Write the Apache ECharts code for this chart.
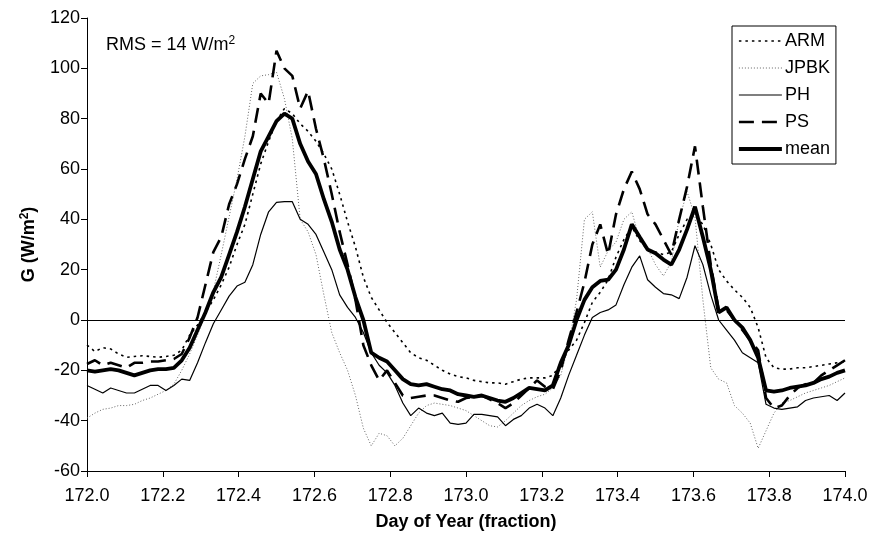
<!DOCTYPE html>
<html>
<head>
<meta charset="utf-8">
<script src="https://cdn.jsdelivr.net/npm/echarts@6/dist/echarts.min.js"></script>
<style>html,body{margin:0;padding:0;background:#fff}#chart{width:871px;height:542px}</style>
</head>
<body>
<div id="chart"></div>
<script>
// Axis settings
const xMin = 172.0, xMax = 174.0, xInterval = 0.2;
const yMin = -60, yMax = 120, yInterval = 20;

// Half-hourly sampling times (day of year, fraction) : 172.0 ... 174.0
const stepsPerDay = 48;
const dayOfYear = Array.from({length: 97}, (_, i) => +(172 + i / stepsPerDay).toFixed(5));

// Series values G (W/m2)
const arm = [-10,-12.5,-11,-11.5,-13.5,-14.8,-14.5,-14.2,-14.5,-14.8,-14.5,-14,-12,-6,-2,3,8,14,21,30,38,50,62,71,79,84,82,78,75,71,66,60,50,39,29,17,9,4,-1,-5,-9,-13,-15,-16,-18,-20,-21.5,-22.5,-23,-24,-24.5,-25,-25,-25.5,-24.5,-23.5,-23,-23,-23,-22,-17.5,-12,-8,-1,7,11,16,25,32,37,31.5,28,27,26,27,34,40,41.5,38,30,20,15.5,12,9,5,-3,-15,-19,-19.5,-19.5,-19,-19,-18.5,-18,-17.5,-17,-16.5];
const jpbk = [-39,-37,-35.5,-35,-34,-34,-33.5,-32,-31,-29.5,-28,-25.5,-20,-13.5,-6,3,11.5,26,41,56,73,94,97,97.5,98.5,88,72,40,35,26,10,-5,-13,-20,-30,-43,-50,-45,-46,-50,-47,-42,-37,-34,-33,-33.5,-34,-35,-36,-38,-40,-42,-42.5,-40,-37,-34,-32,-30.5,-29.5,-27,-22,-10,8,40,43,21,27.5,31,40,43,32,28.5,22,17.5,23,40,51,41,8,-19,-23.5,-25,-34,-37,-41,-51,-44,-37,-33,-32,-30.5,-29,-28,-27,-26,-24.5,-23];
const ph = [-26,-27.5,-29,-27,-28,-29,-29,-27.5,-26,-26,-28,-26,-23.5,-24,-17,-9,-1.5,4,9.5,13.5,15,22,34,43,46.7,47,47,40,38,34,27,20,10,5,1,-5,-13,-18,-21,-26,-33,-38,-35,-37,-38,-37,-41,-41.5,-41,-37.5,-37.5,-38,-38.5,-42,-39.5,-38,-35,-33.5,-35,-38,-31,-22,-14,-6,1,3,4,6,14,21,25.5,16,13,10.5,10,8.5,17,29.5,22,10,0,-4,-8,-13,-15,-17,-33.5,-35,-35.5,-35,-34.5,-32,-31,-30.5,-30,-32,-29];
const ps = [-17.5,-16,-18,-17,-18,-19,-17,-17,-16.5,-16.5,-16,-15.5,-13.5,-7,1,14,27,33,46,54,64,73,90,86,107,100,97,84,91,76,64,50,35,22,8,-10,-18,-24,-20,-25,-30,-31,-30.5,-30,-30,-31,-32,-32.5,-31,-30.5,-30,-31.5,-33,-35,-33,-30,-27,-24,-26.5,-27.5,-20,-8,3,15,30,38,26,42,52,59,52,42,38,32,26,40,53,69,45,22,4,4,0,-4,-8,-12,-31,-35,-34,-30,-27,-25.5,-25,-22,-20,-18,-16];
const mean = [-20,-20.5,-20,-19.5,-20,-21,-22,-21,-20,-19.5,-19.5,-19,-16,-11,-4,3,11,17,26,35,45,56,67,73,79,82,80,70,63,58,48,39,28,20,9,0,-13,-15,-16.5,-20,-23.5,-25.5,-26,-25.5,-26.5,-27.5,-28,-29.5,-30,-30.5,-30,-31,-32,-32.5,-31,-29,-27,-27.5,-28,-26,-17,-10,0,8,13,15.5,16,20,28,38,33,28,26.5,24,22,28,36,45,33,20,3,5,0,-3,-8,-15,-28,-28.5,-28,-27,-26.5,-26,-25,-23.5,-22.5,-21,-20];

const seriesNames = ['ARM', 'JPBK', 'PH', 'PS', 'mean'];
const seriesValues = [arm, jpbk, ph, ps, mean];

const FONT = '"Liberation Sans", Arial, sans-serif';
const supRich = {
  n: {fontSize: 18, lineHeight: 20, fontFamily: FONT, color: '#000'},
  s: {fontSize: 12, lineHeight: 20, fontFamily: FONT, color: '#000', verticalAlign: 'top'},
  nb: {fontSize: 18, lineHeight: 20, fontFamily: FONT, color: '#000', fontWeight: 'bold'},
  sb: {fontSize: 12, lineHeight: 20, fontFamily: FONT, color: '#000', fontWeight: 'bold', verticalAlign: 'top'}
};

const styles = [
  {color: '#000', width: 1.6, type: [2.5, 4]},
  {color: '#666', width: 1, type: [1, 2]},
  {color: '#000', width: 1.2, type: 'solid'},
  {color: '#000', width: 2.6, type: [15, 8]},
  {color: '#000', width: 3.8, type: 'solid'}
];

const chart = echarts.init(document.getElementById('chart'), null, {renderer: 'canvas'});

const series = seriesNames.map((name, k) => ({
  name: name,
  type: 'line',
  symbol: 'none',
  showSymbol: false,
  smooth: false,
  z: 2 + k,
  lineStyle: styles[k],
  itemStyle: {color: styles[k].color},
  data: dayOfYear.map((d, i) => [d, seriesValues[k][i]]),
  emphasis: {disabled: true}
}));
series[2].markLine = {
  silent: true,
  symbol: ['none', 'none'],
  label: {show: false},
  lineStyle: {color: '#000', width: 1, type: 'solid'},
  data: [{yAxis: 0}],
  animation: false
};

const transparentItem = {color: 'rgba(0,0,0,0)', borderColor: 'rgba(0,0,0,0)', borderWidth: 0, opacity: 0};

chart.setOption({
  animation: false,
  backgroundColor: '#fff',
  textStyle: {fontFamily: FONT, color: '#000'},
  grid: {left: 87, right: 26, top: 18, bottom: 71, containLabel: false},
  xAxis: {
    type: 'value', min: xMin, max: xMax, interval: xInterval,
    name: 'Day of Year (fraction)', nameLocation: 'middle', nameGap: 42,
    nameTextStyle: {fontWeight: 'bold', fontSize: 18, fontFamily: FONT, color: '#000'},
    axisLine: {show: true, onZero: false, lineStyle: {color: '#000', width: 1}},
    axisTick: {show: true, inside: false, length: 6, lineStyle: {color: '#000'}},
    splitLine: {show: false},
    axisLabel: {color: '#000', fontSize: 18, fontFamily: FONT, margin: 16,
      formatter: v => v.toFixed(1)}
  },
  yAxis: {
    type: 'value', min: yMin, max: yMax, interval: yInterval,
    name: '{nb|G (W/m}{sb|2}{nb|)}', nameLocation: 'middle', nameGap: 48,
    nameTextStyle: {fontWeight: 'bold', fontSize: 18, fontFamily: FONT, color: '#000', rich: supRich},
    axisLine: {show: true, onZero: false, lineStyle: {color: '#000', width: 1}},
    axisTick: {show: true, inside: false, length: 6, lineStyle: {color: '#000'}},
    splitLine: {show: false},
    axisLabel: {color: '#000', fontSize: 18, fontFamily: FONT, margin: 7}
  },
  legend: {
    orient: 'vertical', left: 732, top: 26,
    itemWidth: 43, itemHeight: 12, itemGap: 9,
    padding: [6, 6, 6, 5],
    borderColor: '#000', borderWidth: 1,
    backgroundColor: '#fff',
    itemStyle: transparentItem,
    textStyle: {fontSize: 18, fontFamily: FONT, color: '#000', padding: [0, 0, 0, -2]},
    data: seriesNames.map((name, k) => ({
      name: name,
      itemStyle: transparentItem,
      lineStyle: {color: styles[k].color, width: styles[k].width, type: styles[k].type}
    })),
    selectedMode: false
  },
  graphic: [{
    type: 'text', left: 106, top: 35,
    style: {text: '{n|RMS = 14 W/m}{s|2}', rich: supRich, fill: '#000'}
  }],
  series: series
});
</script>
</body>
</html>
